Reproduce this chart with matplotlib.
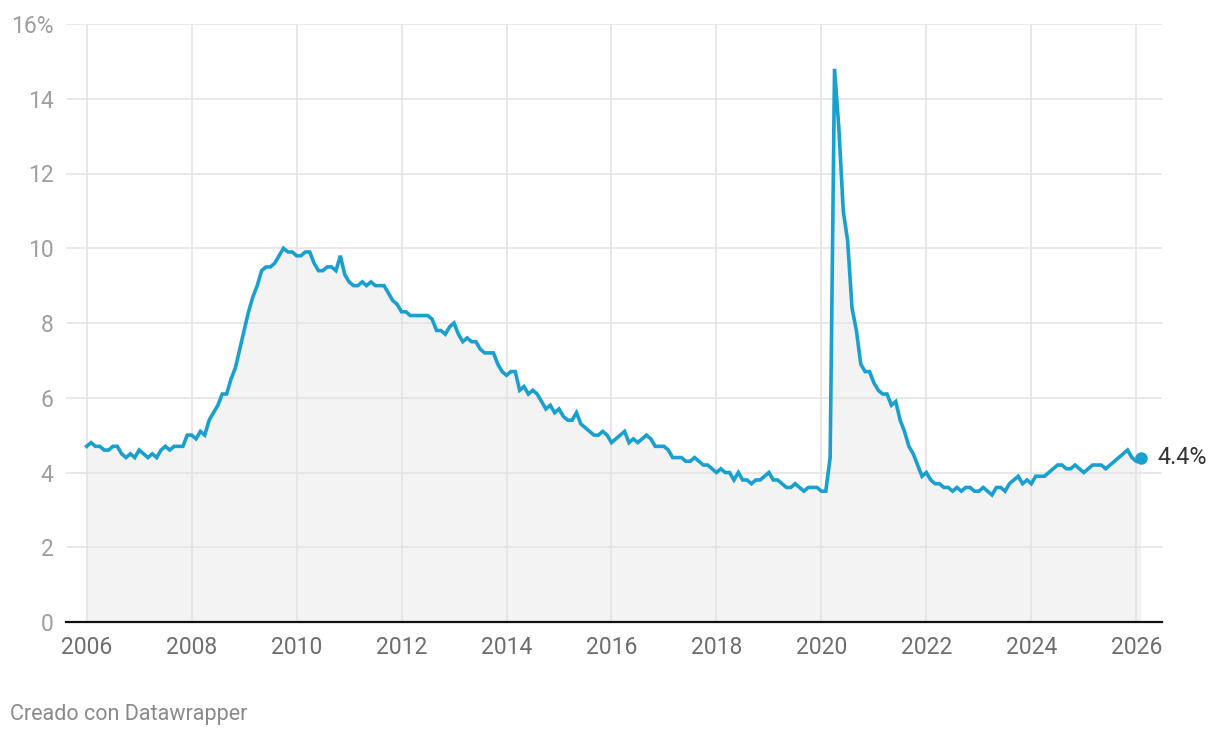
import numpy as np
import matplotlib.pyplot as plt

# monthly unemployment rate (%), Jan..Dec; None = no data published
rate_2006 = [4.7, 4.8, 4.7, 4.7, 4.6, 4.6, 4.7, 4.7, 4.5, 4.4, 4.5, 4.4]
rate_2007 = [4.6, 4.5, 4.4, 4.5, 4.4, 4.6, 4.7, 4.6, 4.7, 4.7, 4.7, 5.0]
rate_2008 = [5.0, 4.9, 5.1, 5.0, 5.4, 5.6, 5.8, 6.1, 6.1, 6.5, 6.8, 7.3]
rate_2009 = [7.8, 8.3, 8.7, 9.0, 9.4, 9.5, 9.5, 9.6, 9.8, 10.0, 9.9, 9.9]
rate_2010 = [9.8, 9.8, 9.9, 9.9, 9.6, 9.4, 9.4, 9.5, 9.5, 9.4, 9.8, 9.3]
rate_2011 = [9.1, 9.0, 9.0, 9.1, 9.0, 9.1, 9.0, 9.0, 9.0, 8.8, 8.6, 8.5]
rate_2012 = [8.3, 8.3, 8.2, 8.2, 8.2, 8.2, 8.2, 8.1, 7.8, 7.8, 7.7, 7.9]
rate_2013 = [8.0, 7.7, 7.5, 7.6, 7.5, 7.5, 7.3, 7.2, 7.2, 7.2, 6.9, 6.7]
rate_2014 = [6.6, 6.7, 6.7, 6.2, 6.3, 6.1, 6.2, 6.1, 5.9, 5.7, 5.8, 5.6]
rate_2015 = [5.7, 5.5, 5.4, 5.4, 5.6, 5.3, 5.2, 5.1, 5.0, 5.0, 5.1, 5.0]
rate_2016 = [4.8, 4.9, 5.0, 5.1, 4.8, 4.9, 4.8, 4.9, 5.0, 4.9, 4.7, 4.7]
rate_2017 = [4.7, 4.6, 4.4, 4.4, 4.4, 4.3, 4.3, 4.4, 4.3, 4.2, 4.2, 4.1]
rate_2018 = [4.0, 4.1, 4.0, 4.0, 3.8, 4.0, 3.8, 3.8, 3.7, 3.8, 3.8, 3.9]
rate_2019 = [4.0, 3.8, 3.8, 3.7, 3.6, 3.6, 3.7, 3.6, 3.5, 3.6, 3.6, 3.6]
rate_2020 = [3.5, 3.5, 4.4, 14.8, 13.2, 11.0, 10.2, 8.4, 7.8, 6.9, 6.7, 6.7]
rate_2021 = [6.4, 6.2, 6.1, 6.1, 5.8, 5.9, 5.4, 5.1, 4.7, 4.5, 4.2, 3.9]
rate_2022 = [4.0, 3.8, 3.7, 3.7, 3.6, 3.6, 3.5, 3.6, 3.5, 3.6, 3.6, 3.5]
rate_2023 = [3.5, 3.6, 3.5, 3.4, 3.6, 3.6, 3.5, 3.7, 3.8, 3.9, 3.7, 3.8]
rate_2024 = [3.7, 3.9, 3.9, 3.9, 4.0, 4.1, 4.2, 4.2, 4.1, 4.1, 4.2, 4.1]
rate_2025 = [4.0, 4.1, 4.2, 4.2, 4.2, 4.1, 4.2, 4.3, 4.4, None, 4.6, 4.4]
rate_2026 = [4.3, 4.4]

years = list(range(2006, 2027))
yearly = [rate_2006, rate_2007, rate_2008, rate_2009, rate_2010, rate_2011,
          rate_2012, rate_2013, rate_2014, rate_2015, rate_2016, rate_2017,
          rate_2018, rate_2019, rate_2020, rate_2021, rate_2022, rate_2023,
          rate_2024, rate_2025, rate_2026]

x_ticks = list(range(2006, 2027, 2))
y_ticks = [0, 2, 4, 6, 8, 10, 12, 14, 16]
y_labels = ['0', '2', '4', '6', '8', '10', '12', '14', '16%']
source_note = 'Creado con Datawrapper'

t, v = [], []
for yr, vals in zip(years, yearly):
    for m, val in enumerate(vals):
        if val is not None:
            t.append(yr + m / 12)
            v.append(val)
t = np.array(t)
v = np.array(v)

plt.rcParams['font.family'] = ['Roboto', 'DejaVu Sans']

blue = '#1aa0cf'
fig = plt.figure(figsize=(12.2, 7.38), dpi=100)
ax = fig.add_axes([66 / 1220, 1 - 622 / 738, 1096 / 1220, 598 / 738])

ax.fill_between(t, v, 0, color='#f3f3f3', lw=0, zorder=1)
ax.plot(t, v, color=blue, lw=2.6, solid_joinstyle='miter', zorder=4)
ax.plot(t[-1], v[-1], 'o', color=blue, ms=9, mec='none', zorder=5)
ax.annotate('{:.1f}%'.format(v[-1]), (t[-1], v[-1]), xytext=(12, 0),
            textcoords='offset points', va='center', ha='left',
            fontsize=16.8, color='#333333')

ax.set_xlim(2005.606, 2026.49)
ax.set_ylim(0, 16)
ax.set_xticks(x_ticks)
ax.set_xticklabels([str(x) for x in x_ticks])
ax.set_yticks(y_ticks)
ax.set_yticklabels(y_labels)
ax.tick_params(axis='x', length=0, pad=10, labelsize=16.5, labelcolor='#6d6d6d')
ax.tick_params(axis='y', length=0, pad=9, labelsize=16.5, labelcolor='#9e9e9e')

ax.grid(True, color='#e2e2e2', lw=1.1, zorder=2)
ax.set_axisbelow(False)
for gl in ax.get_xgridlines() + ax.get_ygridlines():
    gl.set_zorder(2)
for s in ['top', 'right', 'left']:
    ax.spines[s].set_visible(False)
ax.spines['bottom'].set_color('#111111')
ax.spines['bottom'].set_linewidth(1.6)
ax.spines['bottom'].set_zorder(3)

fig.text(10 / 1220, (738 - 720) / 738, source_note, fontsize=15.5,
         color='#8a8a8a', va='baseline', ha='left')

fig.savefig('out.png', dpi=100)
